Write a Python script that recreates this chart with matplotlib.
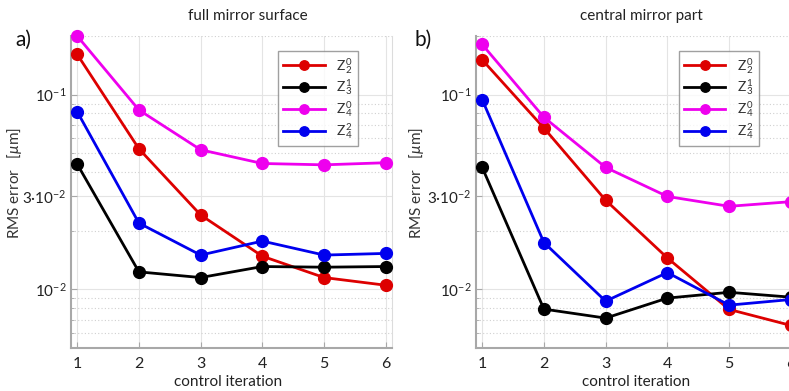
import matplotlib
matplotlib.use("Agg")
import matplotlib.pyplot as plt
from matplotlib.ticker import FixedLocator, NullFormatter

FONT = 'Lato'
plt.rcParams['font.family'] = [FONT, 'DejaVu Sans']
plt.rcParams['mathtext.fontset'] = 'custom'
plt.rcParams['mathtext.rm'] = FONT
plt.rcParams['mathtext.it'] = FONT + ':italic'
plt.rcParams['mathtext.bf'] = FONT + ':bold'

iterations = [1, 2, 3, 4, 5, 6]

# panel a) full mirror surface
full_Z20 = [0.161, 0.0527, 0.0241, 0.0148, 0.0115, 0.0105]
full_Z31 = [0.0440, 0.0123, 0.0115, 0.0131, 0.0130, 0.0131]
full_Z40 = [0.200, 0.0834, 0.0521, 0.0443, 0.0436, 0.0447]
full_Z42 = [0.0818, 0.0219, 0.0150, 0.0177, 0.0150, 0.0153]

# panel b) central mirror part
cent_Z20 = [0.151, 0.0674, 0.0287, 0.0145, 0.00789, 0.00653]
cent_Z31 = [0.0423, 0.00792, 0.00712, 0.00902, 0.00966, 0.00912]
cent_Z40 = [0.181, 0.0765, 0.0423, 0.0300, 0.0267, 0.0282]
cent_Z42 = [0.0943, 0.0174, 0.00870, 0.0122, 0.0083, 0.00887]

series_labels = [r'Z$^{\,0}_{\,2}$', r'Z$^{\,1}_{\,3}$', r'Z$^{\,0}_{\,4}$', r'Z$^{\,2}_{\,4}$']
colors = ['#dd0000', '#000000', '#ee00ee', '#0000ee']
titles = ['full mirror surface', 'central mirror part']
panel_tags = ['a)', 'b)']
ytick_vals = [0.01, 0.03, 0.1]
ytick_labels = [r'$10^{-2}$', r'3·$10^{-2}$', r'$10^{-1}$']
minor_vals = [0.006, 0.007, 0.008, 0.009, 0.02, 0.04, 0.05, 0.06, 0.07, 0.08, 0.09, 0.2]

W, H = 789, 391
fig = plt.figure(figsize=(W / 100, H / 100), dpi=100)

panels = [
    (full_Z20, full_Z31, full_Z40, full_Z42),
    (cent_Z20, cent_Z31, cent_Z40, cent_Z42),
]
ax_left_px = [71, 476]
legend_x = [0.645, 0.632]
title_x = [248, 641]
tag_x = [15, 415]
ylab_x = [15, 416]
xlab_x = [228, 636]

for i, data in enumerate(panels):
    ax = fig.add_axes([ax_left_px[i] / W, 43 / H, 321 / W, 312 / H])
    ax.set_yscale('log')
    for vals, lab, c in zip(data, series_labels, colors):
        ax.plot(iterations, vals, '-o', color=c, lw=2.0, ms=8.5, label=lab,
                clip_on=False, zorder=3)
    ax.set_xlim(0.9, 6.1)
    ax.set_ylim(0.005, 0.2)
    ax.set_xticks(iterations)
    ax.yaxis.set_major_locator(FixedLocator(ytick_vals))
    ax.set_yticklabels(ytick_labels)
    ax.yaxis.set_minor_locator(FixedLocator(minor_vals))
    ax.yaxis.set_minor_formatter(NullFormatter())
    ax.grid(True, which='major', color='#e4e4e4', lw=0.8, ls='-')
    ax.grid(True, which='minor', axis='y', color='#d0d0d0', lw=0.8, ls=(0, (1, 2)))
    ax.set_axisbelow(True)
    for s in ['left', 'bottom']:
        ax.spines[s].set_color('#a8a8a8')
        ax.spines[s].set_linewidth(1.5)
    ax.spines['right'].set_color('#dcdcdc')
    ax.spines['right'].set_linewidth(0.8)
    ax.spines['top'].set_visible(False)
    ax.tick_params(axis='both', which='both', direction='in', color='#a8a8a8',
                   labelsize=11.5, labelcolor='#222222')
    ax.tick_params(axis='y', labelsize=11)
    ax.tick_params(axis='both', which='major', length=4)
    ax.tick_params(axis='y', which='minor', length=2.5)
    ax.tick_params(axis='y', which='major', pad=3)
    ax.tick_params(axis='x', pad=6.5)
    fig.text(xlab_x[i] / W, 1 - 382 / H, 'control iteration', ha='center',
             va='center', fontsize=11, color='#222222')
    leg = ax.legend(loc='upper left', bbox_to_anchor=(legend_x[i], 0.952),
                    fontsize=10, frameon=True, fancybox=False, markerscale=0.8,
                    handlelength=3.0, borderpad=0.35, labelspacing=0.15,
                    handletextpad=0.8, borderaxespad=0)
    leg.get_frame().set_edgecolor('#888888')
    leg.get_frame().set_linewidth(1.0)
    for t in leg.get_texts():
        t.set_color('#333333')
    fig.text(title_x[i] / W, 1 - 16 / H, titles[i], ha='center', va='center',
             fontsize=11, color='#222222')
    fig.text(tag_x[i] / W, 1 - 40 / H, panel_tags[i], ha='left', va='center',
             fontsize=15, color='#111111')
    fig.text(ylab_x[i] / W, 1 - 183 / H, r'RMS error   [$\mu$m]', rotation=90,
             ha='center', va='center', fontsize=11, color='#333333')

fig.savefig('out.png', dpi=100)
